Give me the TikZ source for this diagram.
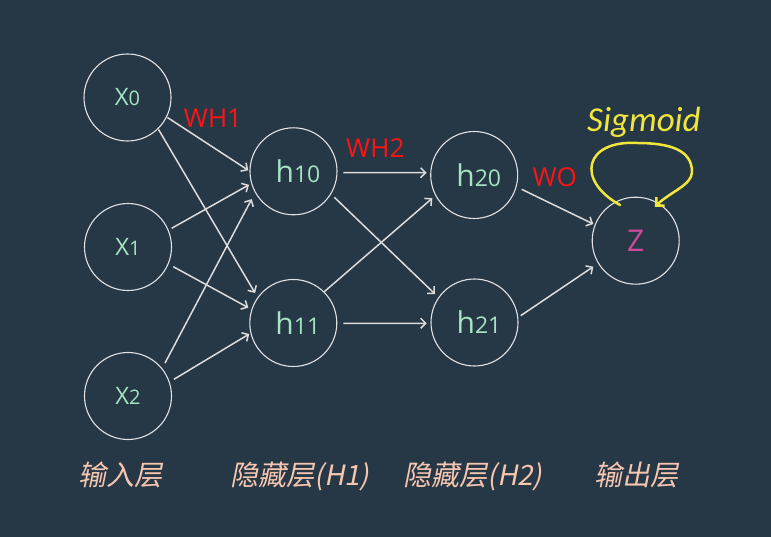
\documentclass[tikz,border=0pt]{standalone}
\usepackage{fontspec}
\setmainfont{Carlito}
\newfontfamily\osans{Open Sans}
\newfontfamily\cjkslant[FakeSlant=0.2]{Noto Sans CJK SC}
\usetikzlibrary{arrows.meta,calc}
\definecolor{bg}{HTML}{263746}
\definecolor{ring}{HTML}{E2E2E2}
\definecolor{edgec}{HTML}{DCDCDC}
\definecolor{nodetxt}{HTML}{A6E3C3}
\definecolor{wred}{HTML}{FF1414}
\definecolor{peach}{HTML}{F6C6B0}
\definecolor{sigy}{HTML}{F0E63C}
\definecolor{zpink}{HTML}{CC4A98}
\newcommand\xlab[1]{{\osans\fontsize{24}{24}\selectfont X}{\osans\fontsize{20}{20}\selectfont #1}}
\newcommand\hlab[1]{\hspace*{9pt}{\osans\fontsize{30}{30}\selectfont h}{\osans\fontsize{23}{23}\selectfont #1}}
\begin{document}
\begin{tikzpicture}[x=1pt,y=-1pt,
  neuron/.style={circle,draw=ring,line width=1.1pt,minimum size=87pt,inner sep=0pt,text=nodetxt},
  edge/.style={draw=edgec,line width=1.5pt,-{Straight Barb[length=5pt,width=10pt]}},
  wlab/.style={text=wred,font=\osans\fontsize{26}{26}\selectfont,anchor=base},
  layer/.style={text=peach,font=\cjkslant\fontsize{28}{28}\selectfont,anchor=base},
  sigl/.style={text=sigy,font=\itshape\fontsize{35}{35}\selectfont,anchor=base},
  sigloop/.style={draw=sigy,line width=2.5pt,line cap=round,-{Straight Barb[length=6pt,width=12pt]}}
]
\fill[bg] (0,0) rectangle (771,537);
\useasboundingbox (0,0) rectangle (771,537);

% input layer
\node[neuron] (x0) at (127.5,97.5) {\xlab{0}};
\node[neuron] (x1) at (128,247) {\xlab{1}};
\node[neuron] (x2) at (128,396) {\xlab{2}};
% hidden layers
\node[neuron] (h10) at (293.5,171.3) {\hlab{10}};
\node[neuron] (h11) at (293.3,323) {\hlab{11}};
\node[neuron] (h20) at (474.2,175) {\hlab{20}};
\node[neuron] (h21) at (474.5,322.5) {\hlab{21}};
% output
\node[neuron,text=zpink,font=\osans\fontsize{30}{30}\selectfont] (Z) at (635.7,240.7) {Z};

% edges input -> H1
\draw[edge] ($(x0.center)+(-26.6:44.7pt)$) -- ($(h10.center)+(178.7:45.2pt)$);
\draw[edge] ($(x0.center)+(-45.9:44.6pt)$) -- ($(h11.center)+(141.9:48.6pt)$);
\draw[edge] ($(x1.center)+(23.2:47.5pt)$) -- ($(h10.center)+(196.9:46.5pt)$);
\draw[edge] ($(x1.center)+(-23.5:49.4pt)$) -- ($(h11.center)+(161.2:47.5pt)$);
\draw[edge] ($(x2.center)+(41.7:49.6pt)$) -- ($(h10.center)+(213.6:50.2pt)$);
\draw[edge] ($(x2.center)+(20:48.9pt)$) -- ($(h11.center)+(194:45.4pt)$);
% H1 -> H2
\draw[edge] ($(h10.center)+(-1.6:49.8pt)$) -- ($(h20.center)+(177.2:47.6pt)$);
\draw[edge] ($(h10.center)+(-32.5:48.4pt)$) -- ($(h21.center)+(144.2:48.7pt)$);
\draw[edge] ($(h11.center)+(45.3:44pt)$) -- ($(h20.center)+(209:47.9pt)$);
\draw[edge] ($(h11.center)+(-0.3:50pt)$) -- ($(h21.center)+(181:47.8pt)$);
% H2 -> output
\draw[edge] ($(h20.center)+(-16.8:49.6pt)$) -- ($(Z.center)+(158.5:45.6pt)$);
\draw[edge] ($(h21.center)+(8.4:46.7pt)$) -- ($(Z.center)+(211.5:49.7pt)$);

% sigmoid self loop
\draw[sigloop] ($(Z.center)+(113.7:39pt)$) .. controls (575,180) and (585,140) .. (637,143)
  .. controls (670,143) and (692,150) .. (692,172)
  .. controls (692,185) and (670,192) .. ($(Z.center)+(60.4:39pt)$);

% weight labels
\node[wlab] (wh1) at (213,128) {WH1};
\node[wlab] (wh2) at (375.3,157.5) {WH2};
\node[wlab] (wo) at (554.7,187) {WO};
\node[sigl] (sig) at (644,131.5) {Sigmoid};

% layer labels
\node[layer] (l0) at (120,485) {输入层};
\node[layer] (l1) at (300,485) {隐藏层(H1)};
\node[layer] (l2) at (473,485) {隐藏层(H2)};
\node[layer] (l3) at (636,485) {输出层};
\end{tikzpicture}
\end{document}
